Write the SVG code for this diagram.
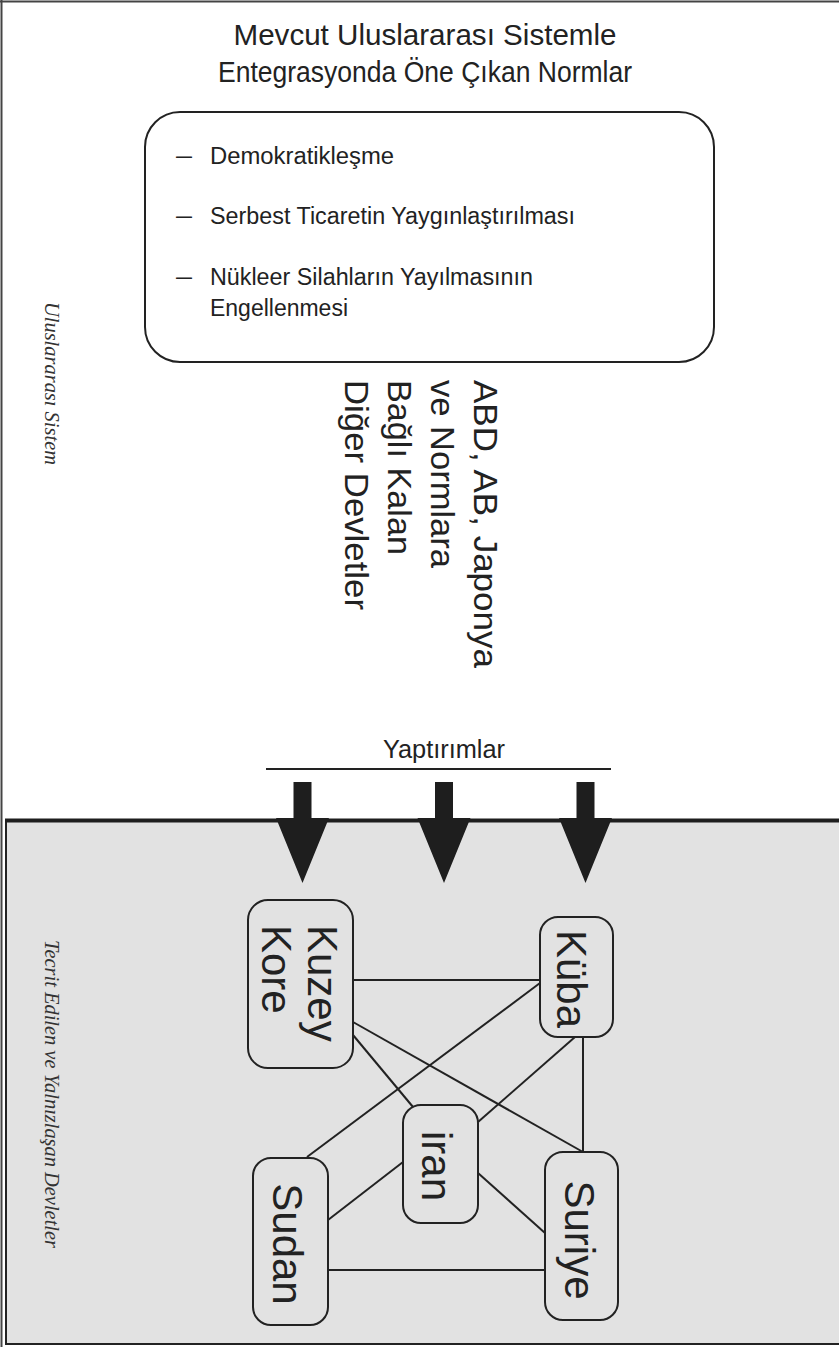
<svg xmlns="http://www.w3.org/2000/svg" width="839" height="1347" viewBox="0 0 839 1347">
<style>
.sans{font-family:"Liberation Sans","Arial",sans-serif;fill:#222}
.ital{font-family:"Liberation Serif","Times New Roman",serif;font-style:italic;fill:#333;font-size:22px}
.node{fill:#e2e2e2;stroke:#222;stroke-width:2}
.conn line{stroke:#222;stroke-width:2}
.nt{font-size:42px}
</style>
<defs>
<path id="arrow" d="M -9,0 H 9 V 36 H 26.5 L 0,101 L -26.5,36 H -9 Z" fill="#1e1e1e"/>
</defs>
<rect x="0" y="0" width="839" height="1347" fill="#ffffff"/>
<line x1="1.5" y1="0" x2="1.5" y2="1347" stroke="#444" stroke-width="2"/>
<line x1="0" y1="1.5" x2="839" y2="1.5" stroke="#444" stroke-width="2"/>
<g id="isolated-region">
<rect x="6" y="820" width="840" height="524" fill="#e2e2e2" stroke="#222" stroke-width="2"/>
<line x1="5" y1="820.5" x2="839" y2="820.5" stroke="#1e1e1e" stroke-width="4"/>
</g>
<g id="title">
<text class="sans" x="425" y="45" font-size="30" text-anchor="middle" textLength="383" lengthAdjust="spacingAndGlyphs">Mevcut Uluslararası Sistemle</text>
<text class="sans" x="425" y="82" font-size="30" text-anchor="middle" textLength="414" lengthAdjust="spacingAndGlyphs">Entegrasyonda Öne Çıkan Normlar</text>
</g>
<g id="norms">
<rect x="145" y="112" width="569" height="250" rx="35" fill="#fff" stroke="#222" stroke-width="2"/>
<text class="sans" x="176" y="163" font-size="23" textLength="16" lengthAdjust="spacingAndGlyphs">—</text>
<text class="sans" x="210" y="164" font-size="23" textLength="184" lengthAdjust="spacingAndGlyphs">Demokratikleşme</text>
<text class="sans" x="176" y="223" font-size="23" textLength="16" lengthAdjust="spacingAndGlyphs">—</text>
<text class="sans" x="210" y="224" font-size="23" textLength="365" lengthAdjust="spacingAndGlyphs">Serbest Ticaretin Yaygınlaştırılması</text>
<text class="sans" x="176" y="284" font-size="23" textLength="16" lengthAdjust="spacingAndGlyphs">—</text>
<text class="sans" x="210" y="285" font-size="23" textLength="323" lengthAdjust="spacingAndGlyphs">Nükleer Silahların Yayılmasının</text>
<text class="sans" x="210" y="316" font-size="23" textLength="138" lengthAdjust="spacingAndGlyphs">Engellenmesi</text>
</g>
<g id="label-system">
<text class="ital" transform="translate(45,302) rotate(90)" x="0" y="0" textLength="163" lengthAdjust="spacingAndGlyphs">Uluslararası Sistem</text>
</g>
<g id="label-isolated">
<text class="ital" transform="translate(45,940) rotate(90)" x="0" y="0" textLength="308" lengthAdjust="spacingAndGlyphs">Tecrit Edilen ve Yalnızlaşan Devletler</text>
</g>
<g id="states" transform="translate(474,380) rotate(90)">
<text class="sans" font-size="33" x="0" y="0" textLength="288" lengthAdjust="spacingAndGlyphs">ABD, AB, Japonya</text>
<text class="sans" font-size="33" x="0" y="43" textLength="188" lengthAdjust="spacingAndGlyphs">ve Normlara</text>
<text class="sans" font-size="33" x="0" y="86" textLength="175" lengthAdjust="spacingAndGlyphs">Bağlı Kalan</text>
<text class="sans" font-size="33" x="0" y="129" textLength="230" lengthAdjust="spacingAndGlyphs">Diğer Devletler</text>
</g>
<g id="sanctions">
<text class="sans" x="383" y="758" font-size="26" textLength="122" lengthAdjust="spacingAndGlyphs">Yaptırımlar</text>
<line x1="266" y1="769" x2="611" y2="769" stroke="#222" stroke-width="2"/>
<use href="#arrow" transform="translate(302.5,782)"/>
<use href="#arrow" transform="translate(444,782)"/>
<use href="#arrow" transform="translate(585.5,782)"/>
</g>
<g id="connectors" class="conn">
<line x1="353" y1="980" x2="540" y2="980"/>
<line x1="540" y1="983" x2="307" y2="1157"/>
<line x1="353" y1="1022" x2="583" y2="1152"/>
<line x1="353" y1="1035" x2="413" y2="1107"/>
<line x1="575" y1="1037" x2="478" y2="1122"/>
<line x1="583" y1="1037" x2="583" y2="1152"/>
<line x1="328" y1="1220" x2="403" y2="1162"/>
<line x1="478" y1="1173" x2="545" y2="1233"/>
<line x1="328" y1="1270" x2="545" y2="1270"/>
</g>
<g id="node-kuzey-kore">
<rect class="node" x="248" y="900" width="105" height="168" rx="20"/>
<g transform="translate(308,925) rotate(90)">
<text class="sans nt" x="0" y="0">Kuzey</text>
<text class="sans nt" x="0" y="46">Kore</text>
</g>
</g>
<g id="node-kuba">
<rect class="node" x="540" y="917" width="73" height="120" rx="18"/>
<text class="sans nt" transform="translate(557,979) rotate(90)" x="0" y="0" text-anchor="middle">Küba</text>
</g>
<g id="node-iran">
<rect class="node" x="403" y="1105" width="75" height="118" rx="18"/>
<text class="sans nt" transform="translate(422,1166) rotate(90)" x="0" y="0" text-anchor="middle">iran</text>
</g>
<g id="node-sudan">
<rect class="node" x="253" y="1158" width="75" height="167" rx="18"/>
<text class="sans nt" transform="translate(273,1244) rotate(90)" x="0" y="0" text-anchor="middle">Sudan</text>
</g>
<g id="node-suriye">
<rect class="node" x="545" y="1152" width="73" height="168" rx="18"/>
<text class="sans nt" transform="translate(565,1240) rotate(90)" x="0" y="0" text-anchor="middle">Suriye</text>
</g>
</svg>
